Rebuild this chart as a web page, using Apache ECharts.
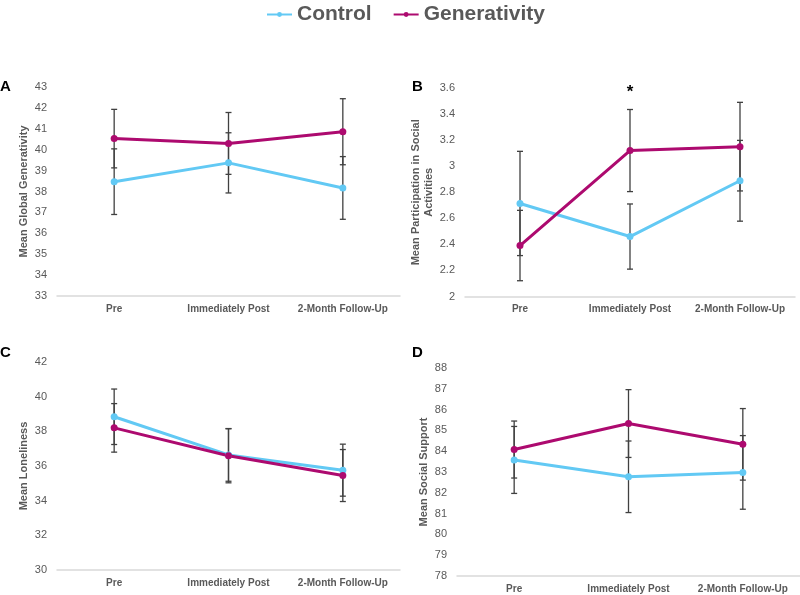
<!DOCTYPE html>
<html>
<head>
<meta charset="utf-8">
<script src="https://cdn.jsdelivr.net/npm/echarts@6/dist/echarts.min.js"></script>
<style>html,body{margin:0;padding:0;background:#fff}#c{width:800px;height:595px}</style>
</head>
<body>
<div id="c"></div>
<script>
const categories = ['Pre', 'Immediately Post', '2-Month Follow-Up'];

const A_control = [38.47, 39.37, 38.17];
const A_control_err = [1.57, 1.44, 1.5];
const A_gen = [40.53, 40.3, 40.86];
const A_gen_err = [1.4, 1.48, 1.58];

const B_control = [2.714, 2.46, 2.888];
const B_control_err = [0.40, 0.25, 0.31];
const B_gen = [2.391, 3.12, 3.15];
const B_gen_err = [0.27, 0.315, 0.34];

const C_control = [38.84, 36.64, 35.76];
const C_control_err = [1.6, 1.52, 1.5];
const C_gen = [38.2, 36.59, 35.45];
const C_gen_err = [1.4, 1.56, 1.5];

const D_control = [83.58, 82.77, 82.98];
const D_control_err = [1.61, 1.72, 1.77];
const D_gen = [84.08, 85.33, 84.33];
const D_gen_err = [1.37, 1.63, 1.72];

const panelLetters = ['A', 'B', 'C', 'D'];
const yTitles = ['Mean Global Generativity', 'Mean Participation in Social\nActivities', 'Mean Loneliness', 'Mean Social Support'];
const yRanges = [[33, 43, 1], [2, 3.6, 0.2], [30, 42, 2], [78, 88, 1]];

const CTRL = '#62C9F4';
const GEN = '#AD0A6F';
const GRAY = '#595959';

const panels = [
  {c: A_control, ce: A_control_err, g: A_gen, ge: A_gen_err},
  {c: B_control, ce: B_control_err, g: B_gen, ge: B_gen_err},
  {c: C_control, ce: C_control_err, g: C_gen, ge: C_gen_err},
  {c: D_control, ce: D_control_err, g: D_gen, ge: D_gen_err}
];

const grids = [
  {left: 57, top: 87, width: 343, height: 209},
  {left: 465, top: 88, width: 330, height: 208.5},
  {left: 57, top: 362, width: 343, height: 208},
  {left: 457, top: 368, width: 343, height: 208}
];

const xAxes = grids.map((g, i) => ({
  type: 'category', gridIndex: i, data: categories, boundaryGap: true,
  axisTick: {show: false},
  axisLine: {lineStyle: {color: '#D9D9D9', width: 1.5}},
  axisLabel: {interval: 0, color: GRAY, fontWeight: 'bold', fontSize: 10, margin: 8, fontFamily: 'Liberation Sans, Arial, sans-serif'}
}));

const yAxes = grids.map((g, i) => ({
  type: 'value', gridIndex: i, min: yRanges[i][0], max: yRanges[i][1], interval: yRanges[i][2],
  splitLine: {show: false}, axisLine: {show: false}, axisTick: {show: false},
  axisLabel: {color: GRAY, fontSize: 11, margin: 10, fontFamily: 'Liberation Sans, Arial, sans-serif'},
  name: yTitles[i], nameLocation: 'middle', nameGap: i === 1 ? 26 : 25,
  nameTextStyle: {color: GRAY, fontWeight: 'bold', fontSize: 11, lineHeight: 13, fontFamily: 'Liberation Sans, Arial, sans-serif'}
}));

function errSeries(vals, errs, idx, nm) {
  return {
    type: 'custom', name: nm, xAxisIndex: idx, yAxisIndex: idx, z: 1,
    data: vals.map((v, k) => [k, v, errs[k]]),
    encode: {x: 0, y: 1},
    silent: true,
    renderItem: function (params, api) {
      const x = api.value(0), m = api.value(1), e = api.value(2);
      const t = api.coord([x, m + e]);
      const b = api.coord([x, m - e]);
      const w = 3;
      const st = {stroke: '#404040', lineWidth: 1.3};
      return {type: 'group', children: [
        {type: 'line', shape: {x1: t[0], y1: t[1], x2: b[0], y2: b[1]}, style: st},
        {type: 'line', shape: {x1: t[0] - w, y1: t[1], x2: t[0] + w, y2: t[1]}, style: st},
        {type: 'line', shape: {x1: b[0] - w, y1: b[1], x2: b[0] + w, y2: b[1]}, style: st}
      ]};
    }
  };
}

function lineSeries(name, vals, idx, color) {
  return {
    type: 'line', name: name, xAxisIndex: idx, yAxisIndex: idx, z: 3,
    data: vals, symbol: 'circle', symbolSize: 7, showSymbol: true,
    itemStyle: {color: color}, lineStyle: {color: color, width: 3},
    emphasis: {disabled: true}
  };
}

const series = [];
panels.forEach((p, i) => {
  series.push(errSeries(p.c, p.ce, i, 'errC' + i));
  series.push(errSeries(p.g, p.ge, i, 'errG' + i));
});
panels.forEach((p, i) => {
  series.push(lineSeries('Control', p.c, i, CTRL));
  const gs = lineSeries('Generativity', p.g, i, GEN);
  if (i === 1) {
    gs.markPoint = {
      symbol: 'circle', symbolSize: 0,
      data: [{coord: [1, 3.6]}],
      label: {show: true, formatter: '*', position: 'inside', color: '#000', fontSize: 17, fontWeight: 'bold', offset: [0, 4]}
    };
  }
  series.push(gs);
});

const letterPos = [[0, 79], [412, 79], [0, 345], [412, 345]];
const graphic = panelLetters.map((L, i) => ({
  type: 'text', left: letterPos[i][0], top: letterPos[i][1],
  style: {text: L, fontSize: 15, fontWeight: 'bold', fill: '#000', fontFamily: 'Liberation Sans, Arial, sans-serif'}
}));

const chart = echarts.init(document.getElementById('c'), null, {renderer: 'canvas'});
chart.setOption({
  animation: false,
  backgroundColor: '#fff',
  legend: {
    data: ['Control', 'Generativity'], top: -1, left: 261,
    itemWidth: 25, itemHeight: 6, itemGap: 21,
    textStyle: {fontSize: 21, fontWeight: 'bold', color: GRAY, fontFamily: 'Liberation Sans, Arial, sans-serif'}
  },
  grid: grids,
  xAxis: xAxes,
  yAxis: yAxes,
  series: series,
  graphic: graphic
});
</script>
</body>
</html>
